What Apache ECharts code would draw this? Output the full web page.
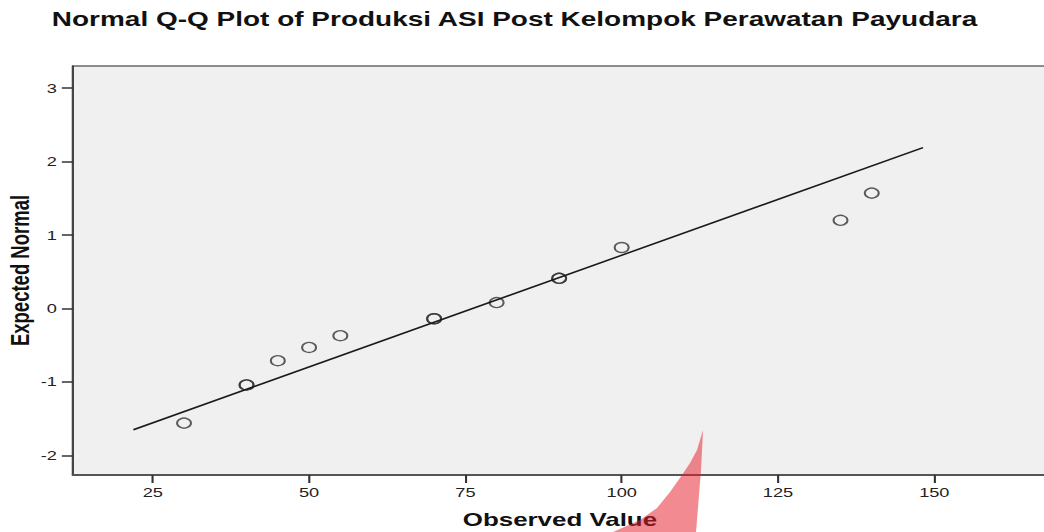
<!DOCTYPE html>
<html>
<head>
<meta charset="utf-8">
<script src="https://cdn.jsdelivr.net/npm/echarts@6/dist/echarts.min.js"></script>
<style>
  html, body { margin: 0; padding: 0; background: #fff; overflow: hidden; }
  /* the reference picture is stretched sideways, so the chart is drawn narrow and stretched */
  #chart { width: 746px; height: 532px; transform: scaleX(1.3995); transform-origin: 0 0; }
</style>
</head>
<body>
<div id="chart"></div>
<script>
  // observed values and their expected normal scores (ties drawn twice)
  var observed = [30, 40, 40, 45, 50, 55, 70, 70, 80, 90, 90, 100, 135, 140];
  var expected = [-1.56, -1.04, -1.04, -0.71, -0.53, -0.37, -0.14, -0.14, 0.08, 0.41, 0.41, 0.83, 1.20, 1.57];

  // reference line end points
  var lineX = [21.9, 148.2];
  var lineY = [-1.65, 2.19];

  var xTicks = [25, 50, 75, 100, 125, 150];
  var yTicks = [-2, -1, 0, 1, 2, 3];

  var S = 1044 / 746;
  var font = 'Liberation Sans';

  var points = observed.map(function (v, i) { return [v, expected[i]]; });
  var linePts = lineX.map(function (v, i) { return [v, lineY[i]]; });

  // pink smudge that sits over the bottom of the picture
  var smudge = [[703, 430], [697, 450], [690, 463], [682, 475], [670, 492], [657, 508], [640, 520], [613, 532], [696, 532], [701, 470]]
    .map(function (p) { return [p[0] / S, p[1]]; });

  var chart = echarts.init(document.getElementById('chart'), null, { renderer: 'svg' });

  var option = {
    animation: false,
    backgroundColor: '#fff',
    title: {
      text: 'Normal Q-Q Plot of Produksi ASI Post Kelompok Perawatan Payudara',
      left: 37,
      top: 9,
      padding: 0,
      textStyle: { fontFamily: font, fontSize: 20, fontWeight: 'bold', color: '#111' }
    },
    grid: {
      left: 52.2, right: -2, top: 66, bottom: 57,
      outerBoundsMode: 'none',
      containLabel: false,
      show: true, backgroundColor: '#f0f0f0', borderColor: '#222', borderWidth: 1
    },
    xAxis: {
      type: 'value',
      min: 12.25,
      max: 168,
      name: 'Observed Value',
      nameLocation: 'middle',
      nameGap: 35,
      nameMoveOverlap: false,
      nameTextStyle: { fontFamily: font, fontSize: 18.5, fontWeight: 'bold', color: '#111' },
      axisLine: { show: true, onZero: false, lineStyle: { color: '#555', width: 2 } },
      axisTick: { show: true, length: 8, customValues: xTicks, lineStyle: { color: '#333', width: 1.5 } },
      axisLabel: { customValues: xTicks, margin: 11, fontFamily: font, fontSize: 13, color: '#222' },
      splitLine: { show: false }
    },
    yAxis: {
      type: 'value',
      min: -2.266,
      max: 3.30,
      name: 'Expected Normal',
      nameLocation: 'middle',
      nameGap: 28,
      nameMoveOverlap: false,
      nameRotate: 90,
      nameTextStyle: { fontFamily: font, fontSize: 18.5, fontWeight: 'bold', color: '#111' },
      axisLine: { show: true, onZero: false, lineStyle: { color: '#444', width: 1.5 } },
      axisTick: { show: true, length: 8, customValues: yTicks, lineStyle: { color: '#333', width: 1.5 } },
      axisLabel: { customValues: yTicks, margin: 11.5, fontFamily: font, fontSize: 13, color: '#222' },
      splitLine: { show: false }
    },
    series: [
      {
        type: 'line',
        data: linePts,
        symbol: 'none',
        silent: true,
        lineStyle: { color: '#1a1a1a', width: 1.5 }
      },
      {
        type: 'scatter',
        data: points,
        symbol: 'circle',
        symbolSize: 10,
        itemStyle: { color: 'rgba(0,0,0,0)', borderColor: '#333', borderWidth: 1.4 }
      }
    ],
    graphic: [{
      type: 'polygon',
      z: 100,
      silent: true,
      shape: { points: smudge },
      style: { fill: 'rgb(230,33,44)', opacity: 0.52 }
    }]
  };

  chart.setOption(option);
</script>
</body>
</html>
